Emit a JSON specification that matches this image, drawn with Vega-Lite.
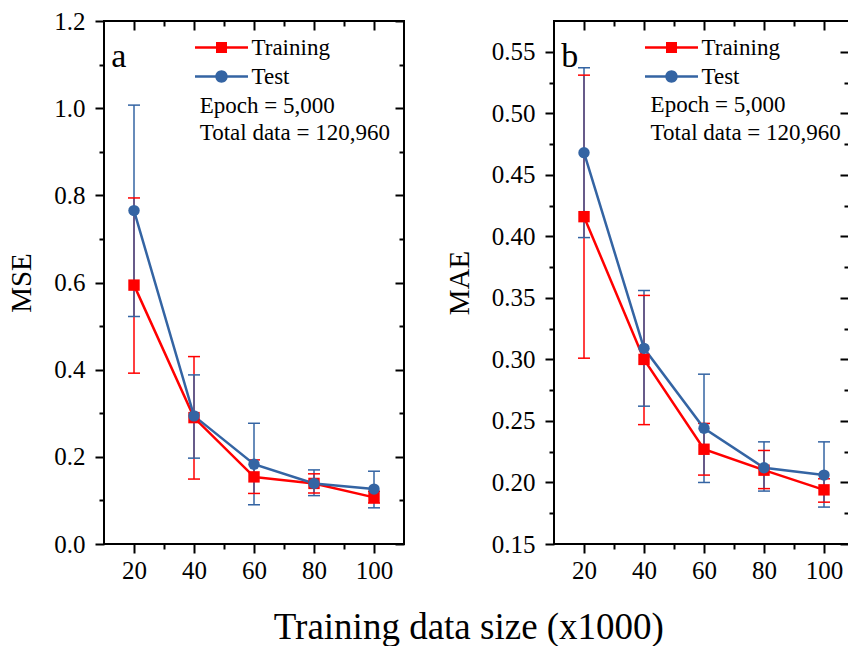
{
  "$schema": "https://vega.github.io/schema/vega-lite/v6.json",
  "padding": {"left": 6, "top": 8, "right": 0, "bottom": 0},
  "config": {
    "font": "Liberation Serif",
    "view": {"stroke": "black", "strokeWidth": 2},
    "axis": {"labelColor": "black", "titleColor": "black", "tickColor": "black", "tickWidth": 2, "grid": false, "domain": false, "labelFontSize": 25, "titleFontSize": 29, "titleFontWeight": "normal"},
    "legend": {"orient": "none", "legendX": 101, "legendY": 10, "title": null, "padding": 0, "symbolSize": 1089, "labelFontSize": 23, "labelColor": "black", "labelOffset": 13.5, "rowPadding": 0, "symbolOpacity": 1, "symbolStrokeWidth": 0}
  },
  "datasets": {
    "metrics": [
      {"panel": "a", "series": "Training", "size": 20, "value": 0.594, "lo": 0.392, "hi": 0.794},
      {"panel": "a", "series": "Training", "size": 40, "value": 0.290, "lo": 0.149, "hi": 0.430},
      {"panel": "a", "series": "Training", "size": 60, "value": 0.154, "lo": 0.116, "hi": 0.193},
      {"panel": "a", "series": "Training", "size": 80, "value": 0.139, "lo": 0.117, "hi": 0.161},
      {"panel": "a", "series": "Training", "size": 100, "value": 0.107, "lo": 0.094, "hi": 0.121},
      {"panel": "a", "series": "Test", "size": 20, "value": 0.765, "lo": 0.522, "hi": 1.007},
      {"panel": "a", "series": "Test", "size": 40, "value": 0.294, "lo": 0.197, "hi": 0.388},
      {"panel": "a", "series": "Test", "size": 60, "value": 0.183, "lo": 0.090, "hi": 0.277},
      {"panel": "a", "series": "Test", "size": 80, "value": 0.139, "lo": 0.111, "hi": 0.170},
      {"panel": "a", "series": "Test", "size": 100, "value": 0.126, "lo": 0.083, "hi": 0.167},
      {"panel": "b", "series": "Training", "size": 20, "value": 0.416, "lo": 0.301, "hi": 0.531},
      {"panel": "b", "series": "Training", "size": 40, "value": 0.300, "lo": 0.247, "hi": 0.352},
      {"panel": "b", "series": "Training", "size": 60, "value": 0.227, "lo": 0.206, "hi": 0.248},
      {"panel": "b", "series": "Training", "size": 80, "value": 0.210, "lo": 0.195, "hi": 0.226},
      {"panel": "b", "series": "Training", "size": 100, "value": 0.194, "lo": 0.184, "hi": 0.203},
      {"panel": "b", "series": "Test", "size": 20, "value": 0.468, "lo": 0.399, "hi": 0.537},
      {"panel": "b", "series": "Test", "size": 40, "value": 0.309, "lo": 0.262, "hi": 0.356},
      {"panel": "b", "series": "Test", "size": 60, "value": 0.244, "lo": 0.200, "hi": 0.288},
      {"panel": "b", "series": "Test", "size": 80, "value": 0.212, "lo": 0.193, "hi": 0.233},
      {"panel": "b", "series": "Test", "size": 100, "value": 0.206, "lo": 0.180, "hi": 0.233}
    ],
    "notes": [
      {"panel": "a", "kind": "letter", "x": 12.4, "y": 1.094, "label": "a"},
      {"panel": "a", "kind": "note", "x": 41.9, "y": 0.99, "label": "Epoch = 5,000"},
      {"panel": "a", "kind": "note", "x": 41.9, "y": 0.927, "label": "Total data = 120,960"},
      {"panel": "b", "kind": "letter", "x": 12.4, "y": 0.538, "label": "b"},
      {"panel": "b", "kind": "note", "x": 42.2, "y": 0.5007, "label": "Epoch = 5,000"},
      {"panel": "b", "kind": "note", "x": 42.2, "y": 0.4785, "label": "Total data = 120,960"}
    ]
  },
  "title": {"text": "Training data size (x1000)", "orient": "bottom", "anchor": "middle", "fontSize": 37, "fontWeight": "normal", "color": "black", "offset": 26, "dx": 40},
  "spacing": 38,
  "resolve": {"scale": {"color": "independent", "shape": "independent", "x": "independent", "y": "independent"}, "legend": {"color": "independent", "shape": "independent"}},
  "hconcat": [
    {
      "width": 300,
      "height": 523,
      "data": {"name": "metrics"},
      "transform": [{"filter": "datum.panel === 'a'"}],
      "resolve": {"axis": {"x": "independent", "y": "independent"}},
      "layer": [
        {
          "mark": {"type": "rule", "strokeWidth": 1.5},
          "encoding": {
            "x": {"field": "size", "type": "quantitative", "scale": {"domain": [10, 110], "nice": false, "zero": false},
                  "axis": {"orient": "bottom", "values": [20, 40, 60, 80, 100], "tickSize": 9, "labelPadding": 5, "title": null}},
            "y": {"field": "lo", "type": "quantitative", "scale": {"domain": [0, 1.2], "nice": false},
                  "axis": {"orient": "left", "values": [0, 0.2, 0.4, 0.6, 0.8, 1.0, 1.2], "format": ".1f", "tickSize": 9, "labelPadding": 10, "title": "MSE", "titlePadding": 17}},
            "y2": {"field": "hi"},
            "color": {"field": "series", "type": "nominal", "scale": {"domain": ["Training", "Test"], "range": ["#ff0000", "#3464a3"]}}
          }
        },
        {
          "transform": [{"fold": ["lo", "hi"], "as": ["end", "bound"]}],
          "mark": {"type": "tick", "orient": "horizontal", "size": 12, "thickness": 1.5, "opacity": 1},
          "encoding": {
            "x": {"field": "size", "type": "quantitative", "axis": {"orient": "bottom", "values": [30, 50, 70, 90], "tickSize": 5, "labels": false, "title": null}},
            "y": {"field": "bound", "type": "quantitative", "axis": {"orient": "left", "values": [0.1, 0.3, 0.5, 0.7, 0.9, 1.1], "tickSize": 5, "labels": false, "title": null}},
            "color": {"field": "series", "type": "nominal"}
          }
        },
        {
          "mark": {"type": "line", "strokeWidth": 2.5},
          "encoding": {
            "x": {"field": "size", "type": "quantitative", "axis": {"orient": "top", "values": [20, 40, 60, 80, 100], "tickSize": -9, "labels": false, "title": null}},
            "y": {"field": "value", "type": "quantitative", "axis": {"orient": "right", "values": [0, 0.2, 0.4, 0.6, 0.8, 1.0, 1.2], "tickSize": -9, "labels": false, "title": null}},
            "color": {"field": "series", "type": "nominal"}
          }
        },
        {
          "mark": {"type": "point", "filled": true, "size": 0},
          "encoding": {
            "x": {"field": "size", "type": "quantitative", "axis": {"orient": "top", "values": [30, 50, 70, 90], "tickSize": -5, "labels": false, "title": null}},
            "y": {"field": "value", "type": "quantitative", "axis": {"orient": "right", "values": [0.1, 0.3, 0.5, 0.7, 0.9, 1.1], "tickSize": -5, "labels": false, "title": null}},
            "color": {"field": "series", "type": "nominal"},
            "shape": {"field": "series", "type": "nominal", "scale": {"domain": ["Training", "Test"], "range": ["M-1.606,-0.076H1.606V0.076H-1.606Z M-0.333,-0.333H0.333V0.333H-0.333Z", "M-1.606,-0.076H1.606V0.076H-1.606Z M-0.376,0A0.376,0.376,0,1,1,0.376,0A0.376,0.376,0,1,1,-0.376,0Z"]}}
          }
        },
        {
          "transform": [{"filter": "datum.series === 'Training'"}],
          "mark": {"type": "point", "filled": true, "opacity": 1, "size": 130, "shape": "square", "color": "#ff0000"},
          "encoding": {
            "x": {"field": "size", "type": "quantitative", "axis": null},
            "y": {"field": "value", "type": "quantitative", "axis": null}
          }
        },
        {
          "transform": [{"filter": "datum.series === 'Test'"}],
          "mark": {"type": "point", "filled": true, "opacity": 1, "size": 130, "shape": "circle", "color": "#3464a3"},
          "encoding": {
            "x": {"field": "size", "type": "quantitative", "axis": null},
            "y": {"field": "value", "type": "quantitative", "axis": null}
          }
        },
        {
          "data": {"name": "notes"},
          "transform": [{"filter": "datum.panel === 'a' && datum.kind === 'letter'"}],
          "mark": {"type": "text", "align": "left", "baseline": "alphabetic", "fontSize": 34, "color": "black"},
          "encoding": {
            "x": {"field": "x", "type": "quantitative", "axis": null},
            "y": {"field": "y", "type": "quantitative", "axis": null},
            "text": {"field": "label"}
          }
        },
        {
          "data": {"name": "notes"},
          "transform": [{"filter": "datum.panel === 'a' && datum.kind === 'note'"}],
          "mark": {"type": "text", "align": "left", "baseline": "alphabetic", "fontSize": 23, "color": "black"},
          "encoding": {
            "x": {"field": "x", "type": "quantitative", "axis": null},
            "y": {"field": "y", "type": "quantitative", "axis": null},
            "text": {"field": "label"}
          }
        }
      ]
    },
    {
      "width": 295,
      "height": 523,
      "data": {"name": "metrics"},
      "transform": [{"filter": "datum.panel === 'b'"}],
      "resolve": {"axis": {"x": "independent", "y": "independent"}},
      "layer": [
        {
          "mark": {"type": "rule", "strokeWidth": 1.5},
          "encoding": {
            "x": {"field": "size", "type": "quantitative", "scale": {"domain": [10, 108.33], "nice": false, "zero": false},
                  "axis": {"orient": "bottom", "values": [20, 40, 60, 80, 100], "tickSize": 9, "labelPadding": 5, "title": null}},
            "y": {"field": "lo", "type": "quantitative", "scale": {"domain": [0.15, 0.575], "nice": false, "zero": false},
                  "axis": {"orient": "left", "values": [0.15, 0.2, 0.25, 0.3, 0.35, 0.4, 0.45, 0.5, 0.55], "format": ".2f", "tickSize": 9, "labelPadding": 10, "title": "MAE", "titlePadding": 17}},
            "y2": {"field": "hi"},
            "color": {"field": "series", "type": "nominal", "scale": {"domain": ["Training", "Test"], "range": ["#ff0000", "#3464a3"]}}
          }
        },
        {
          "transform": [{"fold": ["lo", "hi"], "as": ["end", "bound"]}],
          "mark": {"type": "tick", "orient": "horizontal", "size": 12, "thickness": 1.5, "opacity": 1},
          "encoding": {
            "x": {"field": "size", "type": "quantitative", "axis": {"orient": "bottom", "values": [30, 50, 70, 90], "tickSize": 5, "labels": false, "title": null}},
            "y": {"field": "bound", "type": "quantitative", "axis": {"orient": "left", "values": [0.175, 0.225, 0.275, 0.325, 0.375, 0.425, 0.475, 0.525], "tickSize": 5, "labels": false, "title": null}},
            "color": {"field": "series", "type": "nominal"}
          }
        },
        {
          "mark": {"type": "line", "strokeWidth": 2.5},
          "encoding": {
            "x": {"field": "size", "type": "quantitative", "axis": {"orient": "top", "values": [20, 40, 60, 80, 100], "tickSize": -9, "labels": false, "title": null}},
            "y": {"field": "value", "type": "quantitative", "axis": {"orient": "right", "values": [0.15, 0.2, 0.25, 0.3, 0.35, 0.4, 0.45, 0.5, 0.55], "tickSize": -9, "labels": false, "title": null}},
            "color": {"field": "series", "type": "nominal"}
          }
        },
        {
          "mark": {"type": "point", "filled": true, "size": 0},
          "encoding": {
            "x": {"field": "size", "type": "quantitative", "axis": {"orient": "top", "values": [30, 50, 70, 90], "tickSize": -5, "labels": false, "title": null}},
            "y": {"field": "value", "type": "quantitative", "axis": {"orient": "right", "values": [0.175, 0.225, 0.275, 0.325, 0.375, 0.425, 0.475, 0.525], "tickSize": -5, "labels": false, "title": null}},
            "color": {"field": "series", "type": "nominal"},
            "shape": {"field": "series", "type": "nominal", "scale": {"domain": ["Training", "Test"], "range": ["M-1.606,-0.076H1.606V0.076H-1.606Z M-0.333,-0.333H0.333V0.333H-0.333Z", "M-1.606,-0.076H1.606V0.076H-1.606Z M-0.376,0A0.376,0.376,0,1,1,0.376,0A0.376,0.376,0,1,1,-0.376,0Z"]}}
          }
        },
        {
          "transform": [{"filter": "datum.series === 'Training'"}],
          "mark": {"type": "point", "filled": true, "opacity": 1, "size": 130, "shape": "square", "color": "#ff0000"},
          "encoding": {
            "x": {"field": "size", "type": "quantitative", "axis": null},
            "y": {"field": "value", "type": "quantitative", "axis": null}
          }
        },
        {
          "transform": [{"filter": "datum.series === 'Test'"}],
          "mark": {"type": "point", "filled": true, "opacity": 1, "size": 130, "shape": "circle", "color": "#3464a3"},
          "encoding": {
            "x": {"field": "size", "type": "quantitative", "axis": null},
            "y": {"field": "value", "type": "quantitative", "axis": null}
          }
        },
        {
          "data": {"name": "notes"},
          "transform": [{"filter": "datum.panel === 'b' && datum.kind === 'letter'"}],
          "mark": {"type": "text", "align": "left", "baseline": "alphabetic", "fontSize": 34, "color": "black"},
          "encoding": {
            "x": {"field": "x", "type": "quantitative", "axis": null},
            "y": {"field": "y", "type": "quantitative", "axis": null},
            "text": {"field": "label"}
          }
        },
        {
          "data": {"name": "notes"},
          "transform": [{"filter": "datum.panel === 'b' && datum.kind === 'note'"}],
          "mark": {"type": "text", "align": "left", "baseline": "alphabetic", "fontSize": 23, "color": "black"},
          "encoding": {
            "x": {"field": "x", "type": "quantitative", "axis": null},
            "y": {"field": "y", "type": "quantitative", "axis": null},
            "text": {"field": "label"}
          }
        }
      ]
    }
  ]
}
